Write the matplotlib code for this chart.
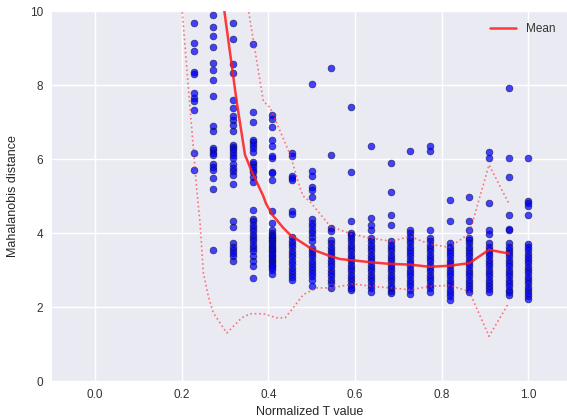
import matplotlib
matplotlib.use("Agg")
import matplotlib.pyplot as plt
import seaborn as sns

# ---------------- data ----------------
col_k = list(range(5, 23))          # columns at T = k/22
col_x = [k / 22 for k in col_k]

col_y = [
    # k=5
    [9.70, 9.15, 8.93, 8.36, 8.32, 7.79, 7.65, 7.59, 7.33, 6.17, 5.70],
    # k=6
    [9.91, 9.58, 9.33, 9.03, 8.61, 8.41, 8.15, 7.70, 6.89, 6.76, 6.31, 6.26,
     6.17, 6.11, 5.87, 5.80, 5.72, 5.50, 5.20, 3.55],
    # k=7
    [9.69, 9.26, 8.58, 8.34, 7.61, 7.40, 7.18, 7.07, 6.94, 6.77, 6.39, 6.34,
     6.28, 6.21, 6.12, 6.04, 5.86, 5.76, 5.67, 5.58, 5.33, 4.32, 4.18, 3.73,
     3.64, 3.55, 3.46, 3.37, 3.26],
    # k=8
    [9.12, 7.29, 7.02, 6.53, 6.48, 6.39, 6.31, 6.19, 5.94, 5.87, 5.80, 5.72,
     5.65, 5.53, 5.38, 4.62, 4.38, 4.32, 4.23, 4.14, 4.05, 3.96, 3.87, 3.78,
     3.69, 3.60, 3.51, 3.37, 3.24, 3.10, 2.79],
    # k=9
    [7.21, 7.10, 6.87, 6.53, 6.35, 6.08, 6.04, 5.65, 5.63, 5.43, 4.59, 4.28,
     4.09, 4.01, 3.96, 3.91, 3.87, 3.82, 3.78, 3.73, 3.69, 3.64, 3.60, 3.55,
     3.51, 3.46, 3.42, 3.37, 3.33, 3.28, 3.24, 3.19, 3.15, 3.10, 3.05, 3.01,
     2.90],
    # k=10
    [6.17, 6.08, 5.54, 5.49, 5.45, 4.59, 4.53, 3.91, 3.80, 3.71, 3.62, 3.52,
     3.43, 3.35, 3.26, 3.16, 3.07, 2.98, 2.90, 2.82, 2.74],
    # k=11
    [8.04, 5.67, 5.56, 5.24, 5.18, 4.98, 4.38, 4.28, 4.20, 4.09, 4.01, 3.91,
     3.78, 3.61, 3.52, 3.44, 3.35, 3.26, 3.17, 3.08, 3.00, 2.91, 2.83, 2.74,
     2.58],
    # k=12
    [8.47, 6.12, 4.14, 4.05, 3.82, 3.73, 3.64, 3.55, 3.46, 3.37, 3.28, 3.19,
     3.10, 3.01, 2.92, 2.83, 2.74, 2.65, 2.53],
    # k=13
    [7.42, 5.66, 4.34, 4.01, 3.96, 3.87, 3.78, 3.69, 3.60, 3.51, 3.42, 3.33,
     3.24, 3.15, 3.06, 2.97, 2.88, 2.79, 2.70, 2.61, 2.53, 2.47],
    # k=14
    [6.36, 4.41, 4.23, 4.09, 3.87, 3.78, 3.69, 3.60, 3.51, 3.42, 3.33, 3.24,
     3.15, 3.06, 2.97, 2.88, 2.79, 2.70, 2.61, 2.52, 2.42],
    # k=15
    [5.90, 5.11, 4.50, 4.23, 3.78, 3.69, 3.60, 3.51, 3.42, 3.33, 3.24, 3.15,
     3.06, 2.97, 2.88, 2.79, 2.70, 2.61, 2.52, 2.44, 2.38],
    # k=16
    [6.22, 4.09, 4.00, 3.91, 3.82, 3.73, 3.64, 3.55, 3.46, 3.37, 3.28, 3.19,
     3.10, 3.01, 2.92, 2.83, 2.74, 2.65, 2.56, 2.47, 2.36],
    # k=17
    [6.35, 6.22, 4.08, 3.87, 3.78, 3.69, 3.60, 3.51, 3.42, 3.33, 3.24, 3.15,
     3.06, 2.97, 2.88, 2.79, 2.70, 2.61, 2.52, 2.42],
    # k=18
    [4.91, 4.32, 3.73, 3.64, 3.55, 3.46, 3.37, 3.28, 3.19, 3.10, 3.01, 2.92,
     2.83, 2.74, 2.65, 2.56, 2.47, 2.38, 2.30, 2.20],
    # k=19
    [4.98, 4.32, 4.09, 3.87, 3.82, 3.73, 3.64, 3.55, 3.46, 3.37, 3.28, 3.19,
     3.10, 3.01, 2.92, 2.83, 2.74, 2.65, 2.56, 2.48, 2.42],
    # k=20
    [6.21, 6.04, 4.82, 4.08, 3.99, 3.73, 3.64, 3.55, 3.46, 3.37, 3.28, 3.19,
     3.10, 3.01, 2.92, 2.83, 2.74, 2.65, 2.56, 2.48, 2.42],
    # k=21
    [7.93, 6.04, 5.51, 4.50, 4.11, 4.08, 3.73, 3.64, 3.55, 3.46, 3.37, 3.28,
     3.19, 3.10, 3.01, 2.92, 2.83, 2.74, 2.65, 2.56, 2.47, 2.40, 2.34],
    # k=22
    [6.04, 4.86, 4.82, 4.73, 4.50, 3.72, 3.63, 3.54, 3.45, 3.36, 3.27, 3.18,
     3.09, 3.00, 2.91, 2.82, 2.73, 2.64, 2.55, 2.46, 2.37, 2.30, 2.22],
]

mean_x = [0.2885, 0.327, 0.346, 0.3616, 0.3884, 0.3946, 0.409, 0.4346, 0.450,
          0.473, 0.4963, 0.504, 0.5424, 0.5654, 0.600, 0.6386, 0.6809, 0.7271,
          0.7727, 0.8182, 0.8636, 0.9091, 0.9545]
mean_y = [10.86, 7.55, 6.12, 5.67, 5.00, 4.80, 4.50, 4.14, 3.96,
          3.78, 3.60, 3.55, 3.38, 3.30, 3.26, 3.21, 3.17, 3.15,
          3.09, 3.12, 3.19, 3.55, 3.45]

upper_x = [0.3423, 0.3884, 0.4039, 0.450, 0.473, 0.480, 0.4963, 0.5424, 0.5931,
           0.6358, 0.6832, 0.7271, 0.7727, 0.8182, 0.8636, 0.9091, 0.9545]
upper_y = [10.86, 7.57, 7.40, 6.13, 5.23, 5.01, 4.85, 4.19, 3.97,
           3.87, 3.78, 3.91, 3.70, 3.62, 3.99, 5.85, 4.81]

lower_x = [0.195, 0.2347, 0.2423, 0.2499, 0.2615, 0.2730, 0.304, 0.3386, 0.3577,
           0.3884, 0.4193, 0.4385, 0.4540, 0.4807, 0.5116, 0.5463, 0.5961,
           0.6386, 0.6809, 0.7270, 0.7727, 0.8182, 0.8636, 0.9091, 0.9545]
lower_y = [10.86, 5.18, 4.28, 2.93, 2.29, 1.84, 1.30, 1.71, 1.82,
           1.82, 1.71, 1.71, 1.93, 2.34, 2.52, 2.52, 2.63,
           2.56, 2.52, 2.47, 2.56, 2.59, 2.42, 1.21, 2.11]

x_ticks = [0.0, 0.2, 0.4, 0.6, 0.8, 1.0]
y_ticks = [0, 2, 4, 6, 8, 10]

# ---------------- plot ----------------
sns.set_style("darkgrid")
plt.rcParams['font.family'] = ['Liberation Sans', 'DejaVu Sans']

fig = plt.figure(figsize=(5.67, 4.19), dpi=100)
ax = fig.add_axes([51.7 / 567, 1 - 381 / 419, (567 - 51.7) / 567, (381 - 11.5) / 419])
ax.set_facecolor('#EAEAF2')
ax.grid(True, color='white', linewidth=1.0)

xs, ys = [], []
for x, yl in zip(col_x, col_y):
    xs.extend([x] * len(yl))
    ys.extend(yl)
ax.scatter(xs, ys, s=24, c='#0000ff', alpha=0.72, edgecolors='#111144',
           linewidths=0.5, zorder=2)

ax.plot(mean_x, mean_y, color='#ff1a1a', lw=1.8, alpha=0.85, label='Mean', zorder=3)
ax.plot(upper_x, upper_y, color='#ff3333', lw=1.2, ls=':', alpha=0.65, zorder=3)
ax.plot(lower_x, lower_y, color='#ff3333', lw=1.2, ls=':', alpha=0.65, zorder=3)

ax.set_xlim(-0.1, 1.089)
ax.set_ylim(0, 10)
ax.set_xticks(x_ticks)
ax.set_xticklabels([f"{v:.1f}" for v in x_ticks])
ax.set_yticks(y_ticks)
ax.set_yticklabels([str(v) for v in y_ticks])
ax.tick_params(axis='both', labelsize=8.5, colors='#333333', length=0, pad=6)
for sp in ax.spines.values():
    sp.set_visible(False)

ax.set_xlabel("Normalized T value", fontsize=9, color='#262626', labelpad=3)
ax.set_ylabel("Mahalanobis distance", fontsize=9, color='#262626', labelpad=8)

leg = ax.legend(loc='upper right', frameon=False, fontsize=8.5, handlelength=2.2,
                borderaxespad=0.6)
for t in leg.get_texts():
    t.set_color('#333333')

fig.savefig("out.png", dpi=100)
